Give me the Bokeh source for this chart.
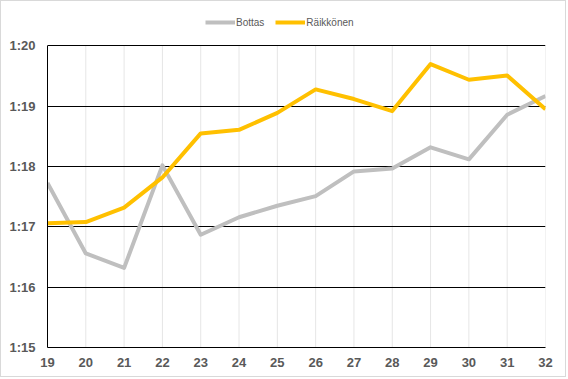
from bokeh.plotting import figure
from bokeh.models import Range1d, FixedTicker, Legend, LegendItem
from bokeh.embed import file_html
from bokeh.resources import INLINE

laps = [19, 20, 21, 22, 23, 24, 25, 26, 27, 28, 29, 30, 31, 32]
bottas = [77.73, 76.56, 76.32, 78.02, 76.87, 77.16, 77.35, 77.51, 77.92, 77.97, 78.32, 78.12, 78.86, 79.17]
raikkonen = [77.06, 77.08, 77.32, 77.82, 78.55, 78.61, 78.89, 79.28, 79.12, 78.92, 79.70, 79.44, 79.51, 78.95]
y_ticks = [75, 76, 77, 78, 79, 80]
y_tick_labels = ["1:15", "1:16", "1:17", "1:18", "1:19", "1:20"]
series_names = ["Bottas", "Räikkönen"]
series_colors = ["#BFBFBF", "#FFC000"]

# headroom above the top tick leaves room for the legend
p = figure(width=566, height=377, output_backend="svg", toolbar_location=None,
           x_range=Range1d(laps[0], laps[-1]), y_range=Range1d(y_ticks[0], y_ticks[-1] + 0.605),
           min_border_left=46, min_border_right=22, min_border_top=8, min_border_bottom=31)
p.styles = {"border": "1px solid #d9d9d9"}
p.outline_line_color = None
p.background_fill_color = "white"
p.border_fill_color = "white"

# light vertical gridlines, limited to the tick span
p.xgrid.visible = False
p.segment(x0=laps, y0=[y_ticks[0]] * len(laps), x1=laps, y1=[y_ticks[-1]] * len(laps),
          line_color="#e6e6e6", line_width=1, level="underlay")

r1 = p.line(laps, bottas, line_color=series_colors[0], line_width=4, line_join="round")
r2 = p.line(laps, raikkonen, line_color=series_colors[1], line_width=4, line_join="round")

label_color = "#595959"
p.yaxis.ticker = FixedTicker(ticks=y_ticks)
p.yaxis.major_label_overrides = {t: l for t, l in zip(y_ticks, y_tick_labels)}
p.yaxis.bounds = (y_ticks[0], y_ticks[-1])
p.xaxis.ticker = FixedTicker(ticks=laps)
for ax in (p.xaxis, p.yaxis):
    ax.axis_line_color = "black"
    ax.axis_line_width = 1
    ax.major_tick_line_color = None
    ax.minor_tick_line_color = None
    ax.major_tick_out = 0
    ax.major_tick_in = 0
    ax.minor_tick_out = 0
    ax.minor_tick_in = 0
    ax.major_label_text_font = "Liberation Sans"
    ax.major_label_text_font_style = "bold"
    ax.major_label_text_font_size = "13px"
    ax.major_label_text_color = label_color
p.yaxis.major_label_standoff = 12
p.xaxis.major_label_standoff = 10

p.ygrid.grid_line_color = "black"
p.ygrid.grid_line_width = 1

legend = Legend(items=[LegendItem(label=series_names[0], renderers=[r1]),
                       LegendItem(label=series_names[1], renderers=[r2])],
                orientation="horizontal", location=(158, 319))
legend.label_text_font = "Liberation Sans"
legend.label_text_font_size = "10px"
legend.label_text_color = label_color
legend.glyph_width = 30
legend.glyph_height = 12
legend.label_standoff = 1
legend.spacing = 11
legend.padding = 2
legend.margin = 0
legend.border_line_color = None
legend.background_fill_alpha = 0
p.add_layout(legend, "center")

open("out.html", "w").write(file_html(p, INLINE))
